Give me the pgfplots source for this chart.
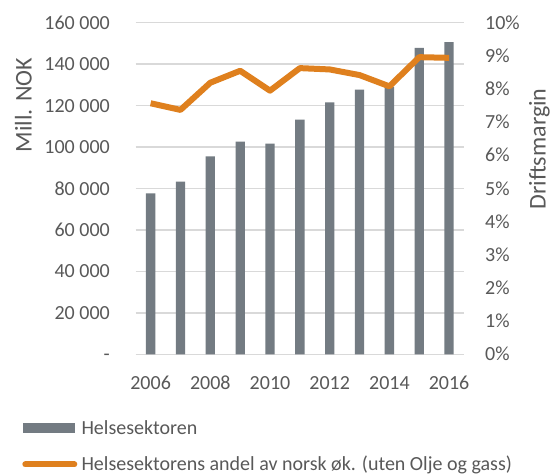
\documentclass[border=0pt]{standalone}
\usepackage{pgfplots}
\pgfplotsset{compat=1.18}
\usepackage{fontspec}
\setmainfont{Carlito}
\definecolor{barcol}{RGB}{115,123,130}
\definecolor{linecol}{RGB}{223,128,30}
\definecolor{gridcol}{RGB}{217,217,217}
\definecolor{textcol}{RGB}{89,89,89}
\begin{document}
\begin{tikzpicture}[x=1bp,y=1bp]
\fill[white] (0,0) rectangle (551,475);
\begin{axis}[
  at={(135.7bp,120.7bp)}, anchor=south west,
  scale only axis, width=328.3bp, height=331.6bp,
  xmin=2005.5, xmax=2016.5, ymin=0, ymax=160000,
  scaled y ticks=false,
  axis line style={draw=none}, tick style={draw=none},
  xtick={2006,2008,2010,2012,2014,2016},
  xticklabels={2006,2008,2010,2012,2014,2016},
  ytick={0,20000,40000,60000,80000,100000,120000,140000,160000},
  yticklabels={-,20 000,40 000,60 000,80 000,100 000,120 000,140 000,160 000},
  ymajorgrids, grid style={gridcol, line width=1.5bp},
  xticklabel style={anchor=base, yshift=-35bp, inner sep=0pt, font=\fontsize{20bp}{24bp}\selectfont, text=textcol},
  yticklabel style={anchor=base east, xshift=-25.7bp, yshift=-6.6bp, inner sep=0pt, font=\fontsize{20bp}{24bp}\selectfont, text=textcol},
  legend style={draw=none, fill=none, inner sep=0pt, at={(axis description cs:-0.3460,-0.1936)}, anchor=north west,
    row sep=17.3bp,
    nodes={inner sep=0pt, text height=16bp, text depth=3bp, text=textcol, font=\fontsize{20bp}{24bp}\selectfont},
    /tikz/every odd column/.append style={column sep=4.2bp}},
  legend cell align=left,
]
\addplot[ybar, bar width=9.3bp, fill=barcol, draw=none,
  legend image code/.code={\fill[barcol] (0bp,-5.2bp) rectangle (51.5bp,5.2bp);}]
  coordinates {(2006,77600) (2007,83300) (2008,95500) (2009,102600) (2010,101700) (2011,113200) (2012,121600) (2013,127700) (2014,129000) (2015,147800) (2016,150600)};
\addlegendentry{Helsesektoren}
\addlegendimage{legend image code/.code={\draw[linecol, line width=6bp, line cap=round] (2bp,0bp) -- (51bp,0bp);}}
\addlegendentry{Helsesektorens andel av norsk øk. (uten Olje og gass)}
\end{axis}
\begin{axis}[
  at={(135.7bp,120.7bp)}, anchor=south west,
  scale only axis, width=328.3bp, height=331.6bp,
  xmin=2005.5, xmax=2016.5, ymin=0, ymax=10,
  axis x line=none, axis y line*=right,
  axis line style={draw=none}, tick style={draw=none},
  ytick={0,1,2,3,4,5,6,7,8,9,10},
  yticklabels={0\%,1\%,2\%,3\%,4\%,5\%,6\%,7\%,8\%,9\%,10\%},
  yticklabel style={anchor=base west, xshift=21bp, yshift=-6.6bp, inner sep=0pt, font=\fontsize{20bp}{24bp}\selectfont, text=textcol},
]
\addplot[linecol, line width=6bp, line join=round, mark=none]
  coordinates {(2006,7.57) (2007,7.37) (2008,8.19) (2009,8.55) (2010,7.95) (2011,8.63) (2012,8.59) (2013,8.42) (2014,8.08) (2015,8.96) (2016,8.94)};
\end{axis}
\node[rotate=90, anchor=base, text=textcol, inner sep=0pt, font=\fontsize{24bp}{28bp}\selectfont] at (31.7bp,370bp) {Mill. NOK};
\node[rotate=90, anchor=base, text=textcol, inner sep=0pt, font=\fontsize{24bp}{28bp}\selectfont] at (545.5bp,326bp) {Driftsmargin};
\pgfresetboundingbox
\useasboundingbox (0,0) rectangle (551,475);
\end{tikzpicture}
\end{document}
